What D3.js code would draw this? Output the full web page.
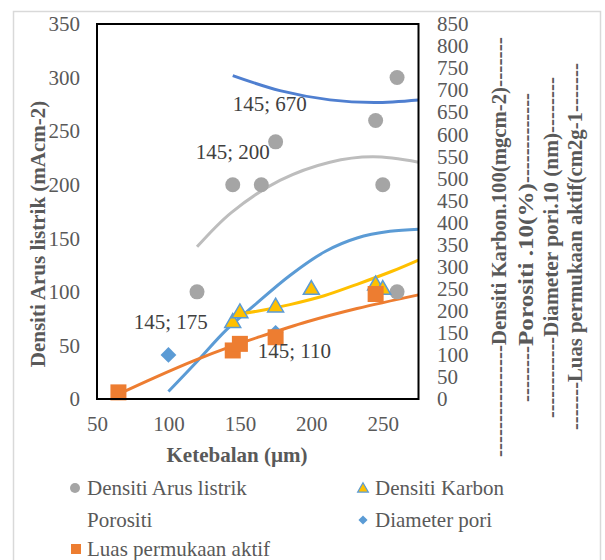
<!DOCTYPE html>
<html><head><meta charset="utf-8">
<script src="https://cdn.jsdelivr.net/npm/d3@7"></script>
<style>
body{margin:0;background:#fff;}
svg text{font-family:"Liberation Serif","Times New Roman",serif;}
</style></head>
<body><svg id="c" width="605" height="560"></svg>
<script>
// ---------- data ----------
const xTicks = [50,100,150,200,250];
const leftTicks = [0,50,100,150,200,250,300,350];
const rightTicks = [0,50,100,150,200,250,300,350,400,450,500,550,600,650,700,750,800,850];

// Densiti Arus listrik (left axis)
const arusX = [120,145,165,175,245,250,260,260];
const arusY = [100,200,200,240,260,200,300,100];
const arusTrend = [[120,142],[144,174],[178,204],[213,221],[243,226],[275,221]];

// Densiti Karbon (right axis)
const karbonX = [145,150,175,200,245,250];
const karbonY = [175,197,210,250,260,250];
const karbonTrend = [[145,190],[162,199],[185,214],[209,234],[232,260],[256,289],[275,315]];

// Porositi (right axis, no markers)
const porositiX = [145];
const porositiY = [670];
const porositiTrend = [[145,733],[178,699],[213,678],[244,672],[275,678]];

// Diameter pori (right axis)
const poriX = [100,175];
const poriY = [100,150];
const poriTrend = [[100,17],[120,85],[140,155],[160,212],[185,280],[210,335],[232,365],[255,380],[275,385]];

// Luas permukaan aktif (right axis)
const luasX = [65,145,150,175,245];
const luasY = [15,110,125,140,238];
const luasTrend = [[65,11],[90,48],[118,87],[143,118],[162,139],[197,175],[232,205],[275,236]];

// data labels: [x, y, axis, placement]
const dataLabels = [[145,670,"R","right0"],[145,200,"L","above"],[145,175,"R","left"],[145,110,"R","right"]];

const legendItems = [
  {name:"Densiti Arus listrik", shape:"circle"},
  {name:"Densiti Karbon", shape:"triangle"},
  {name:"Porositi", shape:"none"},
  {name:"Diameter pori", shape:"diamond"},
  {name:"Luas permukaan aktif", shape:"square"}
];
const rightTitles = ["Densiti Karbon.100(mgcm-2)", "Porositi .10(%)", "Diameter pori.10 (nm)", "Luas permukaan aktif(cm2g-1"];

// ---------- drawing ----------
const C = {gray:"#A5A5A5", grayLine:"#BDBDBD", yellow:"#FFC000", blue:"#5B9BD5", dblue:"#4F7FD0", orange:"#ED7D31", text:"#595959", label:"#404040"};
const svg = d3.select("#c");
svg.append("rect").attr("x",13.5).attr("y",11.5).attr("width",587).attr("height",600)
  .attr("fill","#fff").attr("stroke","#D9D9D9").attr("stroke-width",1.5);

const x = d3.scaleLinear([50,275],[97,418.5]);
const yL = d3.scaleLinear([0,350],[399,24]);
const yR = d3.scaleLinear([0,850],[399,24]);
const FS = 21;

function styleAxis(g){
  g.select(".domain").remove();
  g.selectAll("text").attr("font-size",FS).attr("fill",C.text).attr("font-family","Liberation Serif");
}
svg.append("g").attr("transform","translate(0,399)")
  .call(d3.axisBottom(x).tickValues(xTicks).tickSize(0).tickPadding(17)).call(styleAxis);
svg.append("g").attr("transform","translate(97,0)")
  .call(d3.axisLeft(yL).tickValues(leftTicks).tickSize(0).tickPadding(17)).call(styleAxis);
svg.append("g").attr("transform","translate(418.5,0)")
  .call(d3.axisRight(yR).tickValues(rightTicks).tickSize(0).tickPadding(18.5)).call(styleAxis);

const plot = svg.append("g");
const line = (ys) => d3.line().x(d=>x(d[0])).y(d=>ys(d[1])).curve(d3.curveCatmullRom.alpha(0.5));

// trend lines
plot.append("path").attr("d",line(yL)(arusTrend)).attr("fill","none").attr("stroke",C.grayLine).attr("stroke-width",3);
plot.append("path").attr("d",line(yR)(porositiTrend)).attr("fill","none").attr("stroke",C.dblue).attr("stroke-width",3);
plot.append("path").attr("d",line(yR)(poriTrend)).attr("fill","none").attr("stroke",C.blue).attr("stroke-width",3);
plot.append("path").attr("d",line(yR)(karbonTrend)).attr("fill","none").attr("stroke",C.yellow).attr("stroke-width",3);
plot.append("path").attr("d",line(yR)(luasTrend)).attr("fill","none").attr("stroke",C.orange).attr("stroke-width",3);

// markers
plot.selectAll(".arus").data(d3.zip(arusX,arusY)).join("circle")
  .attr("cx",d=>x(d[0])).attr("cy",d=>yL(d[1])).attr("r",7.5).attr("fill",C.gray);
const tri = d3.symbol().type(d3.symbolTriangle).size(110);
const dia = d3.symbol().type(d3.symbolSquare).size(125);
plot.selectAll(".pori").data(d3.zip(poriX,poriY)).join("path")
  .attr("transform",d=>`translate(${x(d[0])},${yR(d[1])}) rotate(45)`).attr("d",dia).attr("fill",C.blue);
plot.selectAll(".karbon").data(d3.zip(karbonX,karbonY)).join("path")
  .attr("transform",d=>`translate(${x(d[0])},${yR(d[1])+1})`).attr("d",tri)
  .attr("fill",C.yellow).attr("stroke",C.blue).attr("stroke-width",1.5);
plot.selectAll(".luas").data(d3.zip(luasX,luasY)).join("rect")
  .attr("x",d=>x(d[0])-8).attr("y",d=>yR(d[1])-8).attr("width",16).attr("height",16).attr("fill",C.orange);

// data labels
dataLabels.forEach(([dx,dy,ax,pos])=>{
  const px = x(dx), py = (ax==="L"?yL:yR)(dy);
  const t = svg.append("text").text(`${dx}; ${dy}`).attr("font-size",FS).attr("fill",C.label).attr("dy","0.35em");
  if(pos==="right0"){ t.attr("x",px).attr("y",py); }
  else if(pos==="right"){ t.attr("x",px+25).attr("y",py); }
  else if(pos==="left"){ t.attr("x",px-25).attr("y",py).attr("text-anchor","end"); }
  else { t.attr("x",px).attr("y",py-33).attr("text-anchor","middle"); }
});

// plot border
svg.append("rect").attr("x",97).attr("y",24).attr("width",321.5).attr("height",375)
  .attr("fill","none").attr("stroke","#000").attr("stroke-width",2);

// axis titles
svg.append("text").attr("x",237).attr("y",455).attr("dy","0.35em").attr("text-anchor","middle")
  .attr("font-size",FS).attr("font-weight","bold").attr("fill",C.text).text("Ketebalan (µm)");
svg.append("text").attr("transform","translate(38,234) rotate(-90)").attr("dy","0.35em").attr("text-anchor","middle")
  .attr("font-size",FS).attr("font-weight","bold").attr("fill",C.text).text("Densiti Arus listrik (mAcm-2)");

// right titles: dash runs above and below the words
const meas = svg.append("text").attr("font-size",FS).attr("font-weight","bold").text("----------");
const dw = meas.node().getComputedTextLength()/10;
meas.remove();
const rt = [ // [centerX, top, wordTop, wordBottom, bottom]
  [499,37,87,345,457],[526,93,183,346,402],[551,77,133,337,418],[575,63,112,382,430]
];
function vtext(cx, yAnchor, anchor, str, len){
  const t = svg.append("text").attr("transform",`translate(${cx},${yAnchor}) rotate(-90)`).attr("dy","0.35em")
    .attr("text-anchor",anchor).attr("font-size",FS).attr("font-weight","bold").attr("fill",C.text).text(str);
  if(len) t.attr("textLength",len).attr("lengthAdjust","spacingAndGlyphs");
  return t;
}
rightTitles.forEach((s,i)=>{
  const [cx,top,wTop,wBot,bot] = rt[i];
  vtext(cx, wBot, "start", s, wBot-wTop);
  const nTop = Math.max(1,Math.round((wTop-top)/dw));
  vtext(cx, wTop, "start", "-".repeat(nTop), wTop-top);
  const nBot = Math.max(1,Math.round((bot-wBot)/dw));
  vtext(cx, bot, "start", "-".repeat(nBot), bot-wBot);
});

// legend
const legPos = [[75,488],[363,488],[75,520],[363,520],[75,549]];
legendItems.forEach((it,i)=>{
  const [mx,my] = legPos[i];
  const g = svg.append("g");
  if(it.shape==="circle") g.append("circle").attr("cx",mx).attr("cy",my).attr("r",5).attr("fill",C.gray);
  if(it.shape==="triangle") g.append("path").attr("transform",`translate(${mx},${my+1})`).attr("d",d3.symbol().type(d3.symbolTriangle).size(50))
    .attr("fill",C.yellow).attr("stroke",C.blue).attr("stroke-width",1.2);
  if(it.shape==="diamond") g.append("path").attr("transform",`translate(${mx},${my}) rotate(45)`).attr("d",d3.symbol().type(d3.symbolSquare).size(42)).attr("fill",C.blue);
  if(it.shape==="square") g.append("rect").attr("x",mx-4).attr("y",my-5).attr("width",10).attr("height",10).attr("fill",C.orange);
  g.append("text").attr("x",mx+12).attr("y",my).attr("dy","0.35em").attr("font-size",FS).attr("fill",C.text).text(it.name);
});
</script></body></html>
